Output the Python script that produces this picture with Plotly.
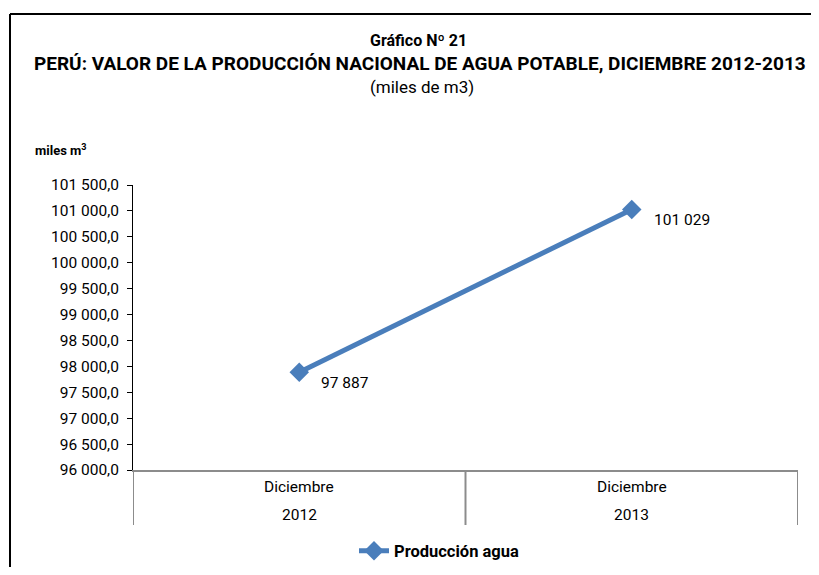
import plotly.graph_objects as go

categories = ["Diciembre 2012", "Diciembre 2013"]
cat_month = ["Diciembre", "Diciembre"]
cat_year = ["2012", "2013"]
produccion = [97887, 101029]
value_labels = ["97 887", "101 029"]
ytick_vals = [96000, 96500, 97000, 97500, 98000, 98500, 99000, 99500,
              100000, 100500, 101000, 101500]
ytick_text = ["96 000,0", "96 500,0", "97 000,0", "97 500,0", "98 000,0",
              "98 500,0", "99 000,0", "99 500,0", "100 000,0", "100 500,0",
              "101 000,0", "101 500,0"]

# page body has an 8px margin; figure is sized to fit the 819x575 window
OFF = 8
W, H = 819 - 2 * OFF, 575 - 2 * OFF
PL, PR, PT, PB = 133, 798, 185, 470  # plot area in window pixels
L, T = PL - OFF, PT - OFF
R, B = W - (PR - OFF), H - (PB - OFF)
PW, PH = PR - PL, PB - PT

def px(x):
    return (x - PL) / PW

def py(y):
    return (PB - y) / PH

FONT = "Roboto, Liberation Sans, sans-serif"
BLUE = "#4A7EBB"

fig = go.Figure()
fig.add_trace(go.Scatter(
    x=categories, y=produccion, mode="lines+markers",
    name="Producción agua",
    line=dict(color=BLUE, width=5),
    marker=dict(symbol="diamond", size=15, color=BLUE),
))

annotations = []
for c, v, t in zip(categories, produccion, value_labels):
    annotations.append(dict(x=c, y=v, xref="x", yref="y", text=t, showarrow=False,
                            xanchor="left", yanchor="middle", xshift=20, yshift=-11,
                            font=dict(family=FONT, size=15.5, color="black")))
for c, m, yr in zip(categories, cat_month, cat_year):
    annotations.append(dict(x=c, y=py(487), xref="x", yref="paper", text=m, showarrow=False,
                            xanchor="center", yanchor="middle",
                            font=dict(family=FONT, size=15.5, color="black")))
    annotations.append(dict(x=c, y=py(515), xref="x", yref="paper", text=yr, showarrow=False,
                            xanchor="center", yanchor="middle",
                            font=dict(family=FONT, size=15.5, color="black")))

annotations += [
    dict(x=px(418), y=py(40), xref="paper", yref="paper", text="<b>Gráfico Nº 21</b>",
         showarrow=False, xanchor="center", yanchor="middle",
         font=dict(family=FONT, size=16, color="black")),
    dict(x=px(420), y=py(63), xref="paper", yref="paper",
         text="<b>PERÚ: VALOR DE LA PRODUCCIÓN NACIONAL DE AGUA POTABLE, DICIEMBRE 2012-2013</b>",
         showarrow=False, xanchor="center", yanchor="middle",
         font=dict(family=FONT, size=19, color="black")),
    dict(x=px(422), y=py(87), xref="paper", yref="paper", text="(miles de m3)",
         showarrow=False, xanchor="center", yanchor="middle",
         font=dict(family=FONT, size=17, color="black")),
    dict(x=px(33), y=py(150), xref="paper", yref="paper", text="<b>miles m<sup>3</sup></b>",
         showarrow=False, xanchor="left", yanchor="middle",
         font=dict(family=FONT, size=13, color="black")),
]

shapes = []
# category separators below the axis
for xb in [-0.5, 0.5, 1.5]:
    shapes.append(dict(type="line", xref="x", yref="paper", x0=xb, x1=xb,
                       y0=0, y1=py(525), line=dict(color="#8C8C8C", width=2)))
# outer frame (left and top edges)
shapes.append(dict(type="line", xref="paper", yref="paper", x0=px(10), x1=px(840),
                   y0=py(14), y1=py(14), line=dict(color="black", width=2)))
shapes.append(dict(type="line", xref="paper", yref="paper", x0=px(10), x1=px(10),
                   y0=py(14), y1=py(600), line=dict(color="black", width=2)))

fig.update_layout(
    width=W, height=H,
    margin=dict(l=L, r=R, t=T, b=B, autoexpand=False),
    paper_bgcolor="white", plot_bgcolor="white",
    font=dict(family=FONT, size=15.5, color="black"),
    showlegend=True,
    legend=dict(orientation="h", x=px(354), y=py(551), xanchor="left", yanchor="middle",
                font=dict(family=FONT, size=16.5, color="black", weight="bold"),
                bgcolor="rgba(0,0,0,0)"),
    annotations=annotations,
    shapes=shapes,
)
fig.update_xaxes(range=[-0.5, 1.5], showticklabels=False, showgrid=False, zeroline=False,
                 showline=True, linecolor="#8C8C8C", linewidth=2, ticks="")
fig.update_yaxes(range=[96000, 101500], tickvals=ytick_vals, ticktext=ytick_text,
                 showgrid=False, zeroline=False, showline=True, linecolor="black",
                 linewidth=1, ticks="outside", ticklen=5, tickcolor="black",
                 ticklabelstandoff=5,
                 tickfont=dict(family=FONT, size=15.5, color="black"))

fig.write_html("out.html")
